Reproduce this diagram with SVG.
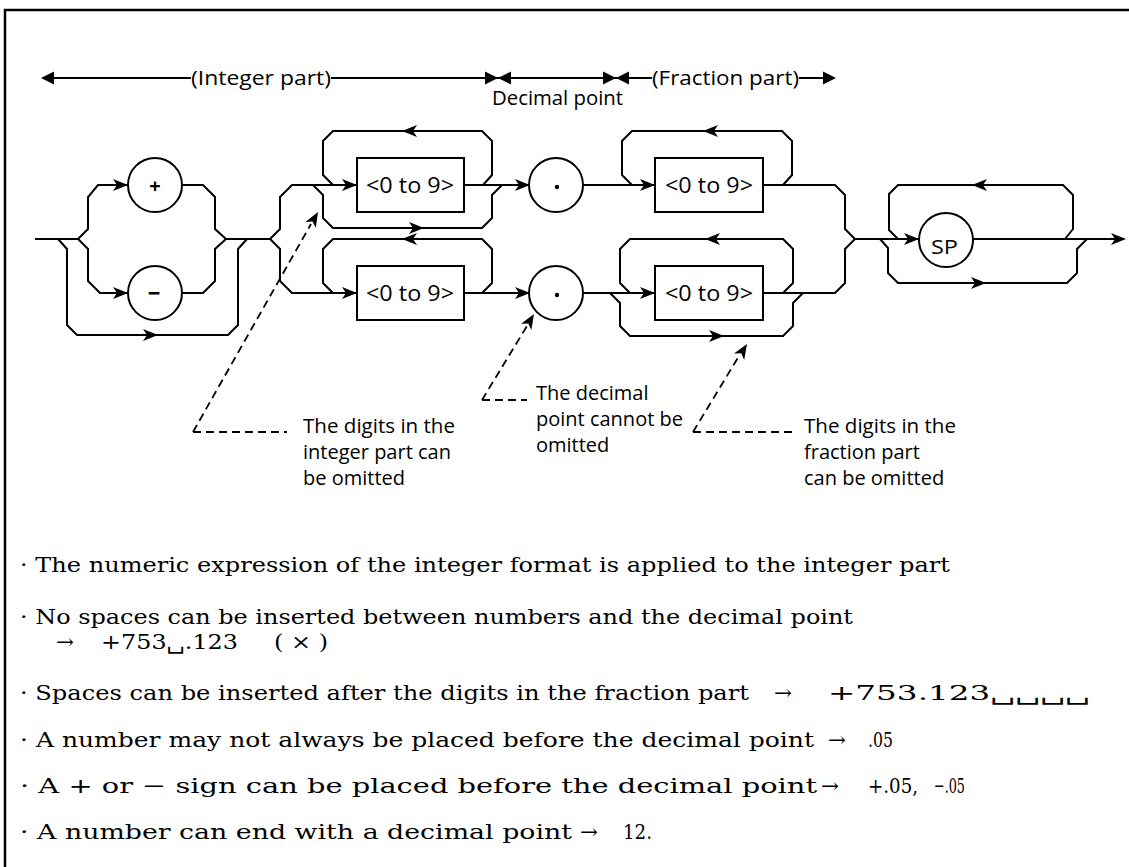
<svg xmlns="http://www.w3.org/2000/svg" xmlns:xlink="http://www.w3.org/1999/xlink" width="1129" height="867" viewBox="0 0 1129 867">
<style>
  .ln { fill: none; stroke: #000; stroke-width: 2; stroke-linejoin: miter; }
  .nd { fill: #fff; stroke: #000; stroke-width: 2; }
  .dash { fill: none; stroke: #000; stroke-width: 1.8; stroke-dasharray: 8 5; }
  .sans { font-family: "Open Sans", "DejaVu Sans", sans-serif; fill: #000; }
  .lbl { font-size: 20px; }
  .box { font-size: 21px; }
  .serif { font-family: "DejaVu Serif", "Liberation Serif", serif; font-size: 21px; fill: #000; }
</style>
<defs>
  <path id="ar" d="M0,0 L-15,-6 L-11,0 L-15,6 Z" fill="#000"/>
  <path id="tri" d="M0,0 L-13,-6.5 L-13,6.5 Z" fill="#000"/>
</defs>
<rect width="1129" height="867" fill="#fff"/>
<!-- frame -->
<path d="M5,867 V10 H1129" fill="none" stroke="#000" stroke-width="2.5"/>

<!-- dimension line -->
<g id="dimension">
  <path class="ln" d="M50,78 H191 M331,78 H652 M799,78 H828"/>
  <use xlink:href="#tri" transform="translate(41,78) rotate(180)"/>
  <use xlink:href="#tri" transform="translate(498,78)"/>
  <use xlink:href="#tri" transform="translate(498,78) rotate(180)"/>
  <use xlink:href="#tri" transform="translate(616,78)"/>
  <use xlink:href="#tri" transform="translate(616,78) rotate(180)"/>
  <use xlink:href="#tri" transform="translate(836,78)"/>
  <text class="sans lbl" x="191" y="85" textLength="140" lengthAdjust="spacingAndGlyphs">(Integer part)</text>
  <text class="sans lbl" x="492" y="105" textLength="131" lengthAdjust="spacingAndGlyphs">Decimal point</text>
  <text class="sans lbl" x="652" y="85" textLength="147" lengthAdjust="spacingAndGlyphs">(Fraction part)</text>
</g>

<!-- connectors -->
<g id="connectors">
  <!-- sign group -->
  <path class="ln" d="M35,239 H78"/>
  <path class="ln" d="M78,239 L88,229 V197 L98,185 H128"/>
  <path class="ln" d="M182,185 H203 L215,197 V229 L226,239"/>
  <path class="ln" d="M78,239 L88,249 V281 L100,293 H128"/>
  <path class="ln" d="M182,293 H203 L215,281 V249 L226,239"/>
  <path class="ln" d="M58,239 L67,249 V325 L77,335 H228 L238,325 V249 L247,239"/>
  <path class="ln" d="M226,239 H270"/>
  <use xlink:href="#ar" x="128" y="185"/>
  <use xlink:href="#ar" x="128" y="293"/>
  <use xlink:href="#ar" x="158" y="335"/>
  <!-- integer group -->
  <path class="ln" d="M270,239 L280,229 V197 L292,185 H357"/>
  <path class="ln" d="M270,239 L280,249 V281 L292,293 H357"/>
  <path class="ln" d="M464,185 H530 M464,293 H530"/>
  <path class="ln" d="M483,185 L492,175 V141 L482,131 H333 L323,141 V175 L333,185"/>
  <path class="ln" d="M313,185 L323,195 V218 L333,228 H482 L492,218 V195 L502,185"/>
  <path class="ln" d="M482,293 L492,283 V249 L482,239 H333 L323,249 V283 L333,293"/>
  <use xlink:href="#ar" x="357" y="185"/>
  <use xlink:href="#ar" x="357" y="293"/>
  <use xlink:href="#ar" x="530" y="185"/>
  <use xlink:href="#ar" x="530" y="293"/>
  <use xlink:href="#ar" transform="translate(402,131) rotate(180)"/>
  <use xlink:href="#ar" x="424" y="228"/>
  <use xlink:href="#ar" transform="translate(402,239) rotate(180)"/>
  <!-- fraction group -->
  <path class="ln" d="M583,185 H655 M583,293 H655"/>
  <path class="ln" d="M763,185 H835 L845,195 V229 L855,239"/>
  <path class="ln" d="M763,293 H835 L845,283 V249 L855,239"/>
  <path class="ln" d="M783,185 L792,175 V141 L782,131 H632 L622,141 V175 L632,185"/>
  <path class="ln" d="M783,293 L793,283 V249 L783,239 H630 L620,249 V283 L630,293"/>
  <path class="ln" d="M610,293 L620,303 V326 L630,336 H783 L793,326 V303 L803,293"/>
  <use xlink:href="#ar" x="655" y="185"/>
  <use xlink:href="#ar" x="655" y="293"/>
  <use xlink:href="#ar" transform="translate(703,131) rotate(180)"/>
  <use xlink:href="#ar" transform="translate(705,239) rotate(180)"/>
  <use xlink:href="#ar" x="724" y="336"/>
  <!-- SP group -->
  <path class="ln" d="M855,239 H919"/>
  <path class="ln" d="M973,239 H1124"/>
  <path class="ln" d="M1065,239 L1073,229 V195 L1063,185 H898 L889,194 V230 L898,239"/>
  <path class="ln" d="M880,239 L888,248 V273 L898,283 H1067 L1077,273 V249 L1087,239"/>
  <use xlink:href="#ar" x="919" y="239"/>
  <use xlink:href="#ar" x="1126" y="239"/>
  <use xlink:href="#ar" transform="translate(972,185) rotate(180)"/>
  <use xlink:href="#ar" x="986" y="283"/>
</g>

<!-- nodes -->
<g id="node-plus">
  <circle class="nd" cx="155" cy="185" r="27"/>
  <text class="sans" x="155" y="193" font-size="20" font-weight="bold" text-anchor="middle">+</text>
</g>
<g id="node-minus">
  <circle class="nd" cx="155" cy="293" r="27"/>
  <text class="sans" x="154" y="301" font-size="22" font-weight="bold" text-anchor="middle">−</text>
</g>
<g id="node-int-upper">
  <rect class="nd" x="357" y="158" width="107" height="54"/>
  <text class="sans box" x="366" y="193" textLength="88" lengthAdjust="spacingAndGlyphs">&lt;0 to 9&gt;</text>
</g>
<g id="node-int-lower">
  <rect class="nd" x="357" y="266" width="107" height="54"/>
  <text class="sans box" x="366" y="301" textLength="88" lengthAdjust="spacingAndGlyphs">&lt;0 to 9&gt;</text>
</g>
<g id="node-point-upper">
  <circle class="nd" cx="556" cy="185" r="27"/>
  <circle cx="557" cy="187" r="2.2" fill="#000"/>
</g>
<g id="node-point-lower">
  <circle class="nd" cx="556" cy="293" r="27"/>
  <circle cx="557" cy="295" r="2.2" fill="#000"/>
</g>
<g id="node-frac-upper">
  <rect class="nd" x="655" y="158" width="108" height="54"/>
  <text class="sans box" x="665" y="193" textLength="88" lengthAdjust="spacingAndGlyphs">&lt;0 to 9&gt;</text>
</g>
<g id="node-frac-lower">
  <rect class="nd" x="655" y="266" width="108" height="54"/>
  <text class="sans box" x="665" y="301" textLength="88" lengthAdjust="spacingAndGlyphs">&lt;0 to 9&gt;</text>
</g>
<g id="node-sp">
  <circle class="nd" cx="946" cy="240" r="27"/>
  <text class="sans" x="931" y="254" font-size="20" textLength="27" lengthAdjust="spacingAndGlyphs">SP</text>
</g>

<!-- annotations -->
<g id="note-integer">
  <path class="dash" d="M193,432 L311,224 M193,432 H287"/>
  <use xlink:href="#ar" transform="translate(318,212) rotate(-60.4)"/>
  <text class="sans lbl"><tspan x="303" y="433" textLength="152" lengthAdjust="spacingAndGlyphs">The digits in the</tspan><tspan x="303" y="459">integer part can</tspan><tspan x="303" y="485">be omitted</tspan></text>
</g>
<g id="note-point">
  <path class="dash" d="M482,400 L527,326 M482,400 H527"/>
  <use xlink:href="#ar" transform="translate(534,314) rotate(-58.7)"/>
  <text class="sans lbl"><tspan x="536" y="400">The decimal</tspan><tspan x="536" y="426">point cannot be</tspan><tspan x="536" y="452">omitted</tspan></text>
</g>
<g id="note-fraction">
  <path class="dash" d="M693,432 L739,356 M693,432 H792"/>
  <use xlink:href="#ar" transform="translate(747,344) rotate(-58.2)"/>
  <text class="sans lbl"><tspan x="804" y="433" textLength="152" lengthAdjust="spacingAndGlyphs">The digits in the</tspan><tspan x="804" y="459">fraction part</tspan><tspan x="804" y="485">can be omitted</tspan></text>
</g>

<!-- notes -->
<g id="notes">
  <text class="serif" x="20" y="572" textLength="930" lengthAdjust="spacingAndGlyphs">· The numeric expression of the integer format is applied to the integer part</text>
  <text class="serif" x="20" y="624" textLength="833" lengthAdjust="spacingAndGlyphs">· No spaces can be inserted between numbers and the decimal point</text>
  <text class="serif" x="56" y="649" textLength="18" lengthAdjust="spacingAndGlyphs">→</text>
  <text class="serif" x="101" y="649" textLength="137" lengthAdjust="spacingAndGlyphs">+753␣.123</text>
  <text class="serif" x="274" y="649" textLength="54" lengthAdjust="spacingAndGlyphs">( × )</text>
  <text class="serif" x="20" y="700" textLength="729" lengthAdjust="spacingAndGlyphs">· Spaces can be inserted after the digits in the fraction part</text>
  <text class="serif" x="774" y="700" textLength="18" lengthAdjust="spacingAndGlyphs">→</text>
  <text class="serif" x="828" y="700" textLength="262" lengthAdjust="spacingAndGlyphs">+753.123␣␣␣␣</text>
  <text class="serif" x="20" y="747" textLength="794" lengthAdjust="spacingAndGlyphs">· A number may not always be placed before the decimal point</text>
  <text class="serif" x="828" y="747" textLength="18" lengthAdjust="spacingAndGlyphs">→</text>
  <text class="serif" x="868" y="747" textLength="25" lengthAdjust="spacingAndGlyphs">.05</text>
  <text class="serif" x="20" y="793" textLength="797" lengthAdjust="spacingAndGlyphs">· A + or − sign can be placed before the decimal point</text>
  <text class="serif" x="821" y="793" textLength="18" lengthAdjust="spacingAndGlyphs">→</text>
  <text class="serif" x="868" y="793" textLength="50" lengthAdjust="spacingAndGlyphs">+.05,</text>
  <text class="serif" x="934" y="793" textLength="31" lengthAdjust="spacingAndGlyphs">−.05</text>
  <text class="serif" x="20" y="839" textLength="552" lengthAdjust="spacingAndGlyphs">· A number can end with a decimal point</text>
  <text class="serif" x="580" y="839" textLength="18" lengthAdjust="spacingAndGlyphs">→</text>
  <text class="serif" x="623" y="839" textLength="29" lengthAdjust="spacingAndGlyphs">12.</text>
</g>
</svg>
